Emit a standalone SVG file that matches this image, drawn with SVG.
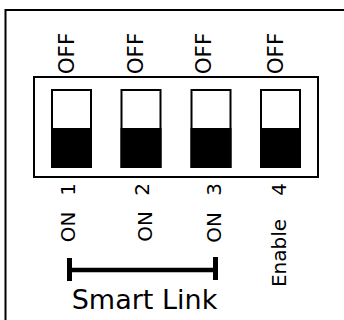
<svg xmlns="http://www.w3.org/2000/svg" width="344" height="320" viewBox="0 0 344 320">
<style>
.frame{fill:none;stroke:#000;stroke-width:2}
.sw{fill:#fff;stroke:#000;stroke-width:2}
.on{fill:#000}
.t{font-family:"DejaVu Sans",Verdana,sans-serif;fill:#000;text-anchor:middle}
.off{font-size:21.5px}
.num{font-size:20px}
.bar{stroke:#000;stroke-width:4.5;fill:none}
</style>
<rect width="344" height="320" fill="#fff"/>
<rect class="frame" x="5.5" y="10" width="400" height="400"/>
<g id="dip-body"><rect class="frame" x="34" y="77" width="284" height="100"/></g>
<g id="switch1">
<rect class="sw" x="52" y="90" width="39" height="77"/><rect class="on" x="51" y="128" width="41" height="40"/>
<text class="t off" transform="translate(74,53.5) rotate(-90)">OFF</text>
<text class="t num" transform="translate(74.5,189.5) rotate(-90)">1</text>
<text class="t num" transform="translate(74.5,227) rotate(-90)">ON</text>
</g>
<g id="switch2">
<rect class="sw" x="121.5" y="90" width="39" height="77"/><rect class="on" x="120.5" y="128" width="41" height="40"/>
<text class="t off" transform="translate(142.5,53.5) rotate(-90)">OFF</text>
<text class="t num" transform="translate(148.5,189.5) rotate(-90)">2</text>
<text class="t num" transform="translate(151.5,226.5) rotate(-90)">ON</text>
</g>
<g id="switch3">
<rect class="sw" x="191.5" y="90" width="39" height="77"/><rect class="on" x="190.5" y="128" width="41" height="40"/>
<text class="t off" transform="translate(210.5,53.5) rotate(-90)">OFF</text>
<text class="t num" transform="translate(220.5,189.5) rotate(-90)">3</text>
<text class="t num" transform="translate(220.5,227.5) rotate(-90)">ON</text>
</g>
<g id="switch4">
<rect class="sw" x="261" y="90" width="39" height="77"/><rect class="on" x="260" y="128" width="41" height="40"/>
<text class="t off" transform="translate(282.5,53.5) rotate(-90)">OFF</text>
<text class="t num" transform="translate(285.5,189.5) rotate(-90)">4</text>
<text class="t num" transform="translate(285.5,253) rotate(-90)">Enable</text>
</g>
<g id="connectors">
<line class="bar" x1="70" y1="270" x2="215" y2="270"/>
<line class="bar" x1="69.5" y1="258" x2="69.5" y2="281" style="stroke-width:5"/>
<line class="bar" x1="215.5" y1="257" x2="215.5" y2="280" style="stroke-width:5"/>
</g>
<g id="smart-link"><text class="t" x="144.5" y="308.5" style="font-size:27px">Smart Link</text></g>
</svg>
